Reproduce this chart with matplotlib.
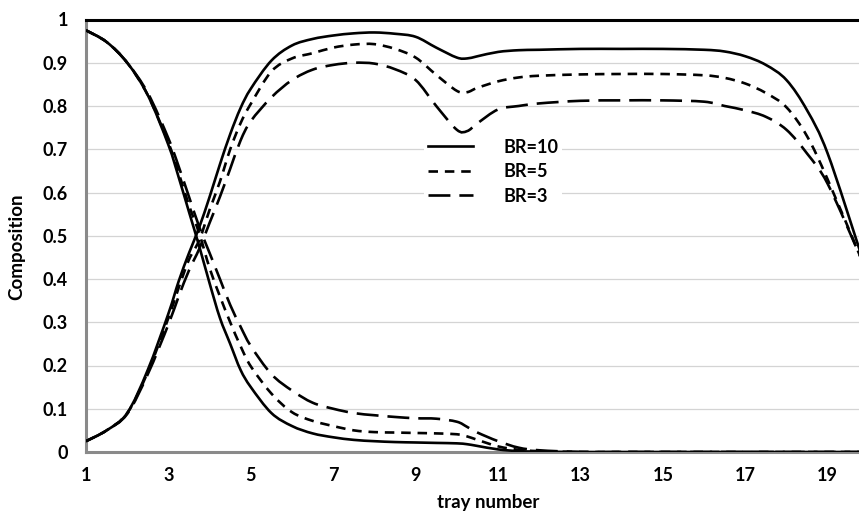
import matplotlib
matplotlib.use("Agg")
import matplotlib.pyplot as plt
import numpy as np
from matplotlib.path import Path
from matplotlib.patches import PathPatch
from matplotlib.lines import Line2D
from matplotlib.ticker import FixedLocator

plt.rcParams['font.family'] = ['Lato', 'DejaVu Sans']

# tray positions
tray = [1, 1.5, 2, 2.5, 3, 3.25, 3.5, 3.75, 4, 4.25, 4.5, 4.75, 5, 5.5, 6, 6.5,
        7, 7.5, 8, 8.5, 9, 9.5, 10, 10.25, 10.5, 11, 11.5, 12, 13, 14, 15, 16,
        16.5, 17, 17.5, 18, 18.5, 19, 19.8]

# rising composition curves
up_br10 = [0.025, 0.05, 0.09, 0.19, 0.32, 0.395, 0.46, 0.52, 0.59, 0.665, 0.735, 0.795, 0.84, 0.905, 0.94, 0.955,
           0.963, 0.968, 0.97, 0.967, 0.96, 0.935, 0.912, 0.91, 0.915, 0.925, 0.929, 0.93, 0.932, 0.932, 0.932, 0.93,
           0.926, 0.915, 0.895, 0.86, 0.79, 0.69, 0.46]
up_br5 = [0.025, 0.05, 0.09, 0.185, 0.31, 0.38, 0.445, 0.49, 0.56, 0.625, 0.70, 0.76, 0.805, 0.88, 0.91, 0.922,
          0.935, 0.942, 0.943, 0.932, 0.912, 0.872, 0.835, 0.832, 0.842, 0.857, 0.866, 0.87, 0.873, 0.874, 0.874, 0.871,
          0.865, 0.852, 0.83, 0.797, 0.73, 0.63, 0.45]
up_br3 = [0.025, 0.05, 0.088, 0.18, 0.295, 0.36, 0.42, 0.47, 0.53, 0.59, 0.655, 0.72, 0.765, 0.82, 0.86, 0.884,
          0.895, 0.90, 0.898, 0.885, 0.86, 0.80, 0.745, 0.742, 0.76, 0.792, 0.80, 0.806, 0.812, 0.813, 0.813, 0.81,
          0.80, 0.79, 0.775, 0.745, 0.69, 0.62, 0.45]

# falling composition curves
dn_br10 = [0.975, 0.948, 0.90, 0.825, 0.71, 0.635, 0.555, 0.475, 0.39, 0.31, 0.25, 0.19, 0.15, 0.09, 0.06, 0.043,
           0.034, 0.028, 0.025, 0.023, 0.022, 0.021, 0.02, 0.018, 0.014, 0.006, 0.002, 0.001, 0, 0, 0, 0,
           0, 0, 0, 0, 0, 0, 0]
dn_br5 = [0.975, 0.948, 0.90, 0.825, 0.715, 0.645, 0.57, 0.505, 0.425, 0.36, 0.30, 0.245, 0.198, 0.135, 0.092, 0.072,
          0.06, 0.05, 0.046, 0.045, 0.044, 0.043, 0.041, 0.036, 0.028, 0.013, 0.005, 0.002, 0, 0, 0, 0,
          0, 0, 0, 0, 0, 0, 0]
dn_br3 = [0.975, 0.948, 0.90, 0.83, 0.725, 0.66, 0.59, 0.52, 0.46, 0.40, 0.34, 0.29, 0.245, 0.18, 0.142, 0.114,
          0.10, 0.09, 0.085, 0.081, 0.078, 0.077, 0.07, 0.058, 0.045, 0.025, 0.01, 0.004, 0, 0, 0, 0,
          0, 0, 0, 0, 0, 0, 0]

labels = ['BR=10', 'BR=5', 'BR=3']
x_ticks = [1, 3, 5, 7, 9, 11, 13, 15, 17, 19]
y_ticks = [0, 0.1, 0.2, 0.3, 0.4, 0.5, 0.6, 0.7, 0.8, 0.9, 1]
y_tick_labels = ['0', '0.1', '0.2', '0.3', '0.4', '0.5', '0.6', '0.7', '0.8', '0.9', '1']


def smooth_path(x, y):
    '''Excel-style smoothed line: cubic Bezier segments through every point'''
    p = np.column_stack([x, y]).astype(float)
    verts = [p[0]]
    codes = [Path.MOVETO]
    n = len(p)
    for i in range(n - 1):
        p0 = p[i - 1] if i > 0 else p[i]
        p3 = p[i + 2] if i + 2 < n else p[i + 1]
        c1 = p[i] + (p[i + 1] - p0) / 6
        c2 = p[i + 1] - (p3 - p[i]) / 6
        verts += [c1, c2, p[i + 1]]
        codes += [Path.CURVE4] * 3
    return Path(verts, codes)


fig = plt.figure(figsize=(8.59, 5.16), dpi=100)
ax = fig.add_axes([86 / 859, 1 - 452 / 516, 1 - 86 / 859, (452 - 19.5) / 516])

lw = 1.9
styles = ['-', (0, (3.6, 2.6)), (0, (8.3, 3.4))]

handles = []
for up, dn, ls, lab in zip([up_br10, up_br5, up_br3], [dn_br10, dn_br5, dn_br3], styles, labels):
    for ys in (up, dn):
        ax.add_patch(PathPatch(smooth_path(tray, ys), fill=False, edgecolor='black',
                               lw=lw, linestyle=ls, capstyle='butt', zorder=3))
    handles.append(Line2D([], [], color='black', lw=lw, linestyle=ls,
                          dash_capstyle='butt', label=lab))

ax.set_xlim(1, 19.76)
ax.set_ylim(0, 1)
ax.xaxis.set_major_locator(FixedLocator(x_ticks))
ax.set_yticks(y_ticks)
ax.set_yticklabels(y_tick_labels)
ax.tick_params(axis='both', length=0, labelsize=13)
ax.tick_params(axis='y', pad=13)
ax.tick_params(axis='x', pad=11)
for t in ax.get_xticklabels() + ax.get_yticklabels():
    t.set_fontweight('bold')

ax.grid(axis='y', color='#d4d4d4', lw=0.9, zorder=0)
ax.set_axisbelow(True)

ax.spines['right'].set_visible(False)
ax.spines['top'].set_color('black')
ax.spines['top'].set_linewidth(2.2)
ax.spines['left'].set_color('#8a8a8a')
ax.spines['left'].set_linewidth(2.2)
ax.spines['bottom'].set_color('#8a8a8a')
ax.spines['bottom'].set_linewidth(2.2)

ax.set_xlabel('tray number', fontsize=13.5, fontweight='bold')
ax.xaxis.set_label_coords(0.52, -0.097)
ax.xaxis.label.set_va('top')
ax.set_ylabel('Composition', fontsize=13.5, fontweight='bold')
ax.yaxis.set_label_coords(-0.079, 0.474)

leg = ax.legend(handles=handles, loc='upper left', bbox_to_anchor=(424 / 859, 1 - 135 / 516),
                bbox_transform=fig.transFigure, frameon=True, fontsize=13,
                handlelength=2.5, handletextpad=1.7, labelspacing=0.42, borderpad=0.2,
                borderaxespad=0)
leg.get_frame().set_edgecolor('none')
leg.get_frame().set_facecolor('white')
leg.get_frame().set_alpha(1)
for t in leg.get_texts():
    t.set_fontweight('bold')

fig.savefig('out.png', dpi=100)
